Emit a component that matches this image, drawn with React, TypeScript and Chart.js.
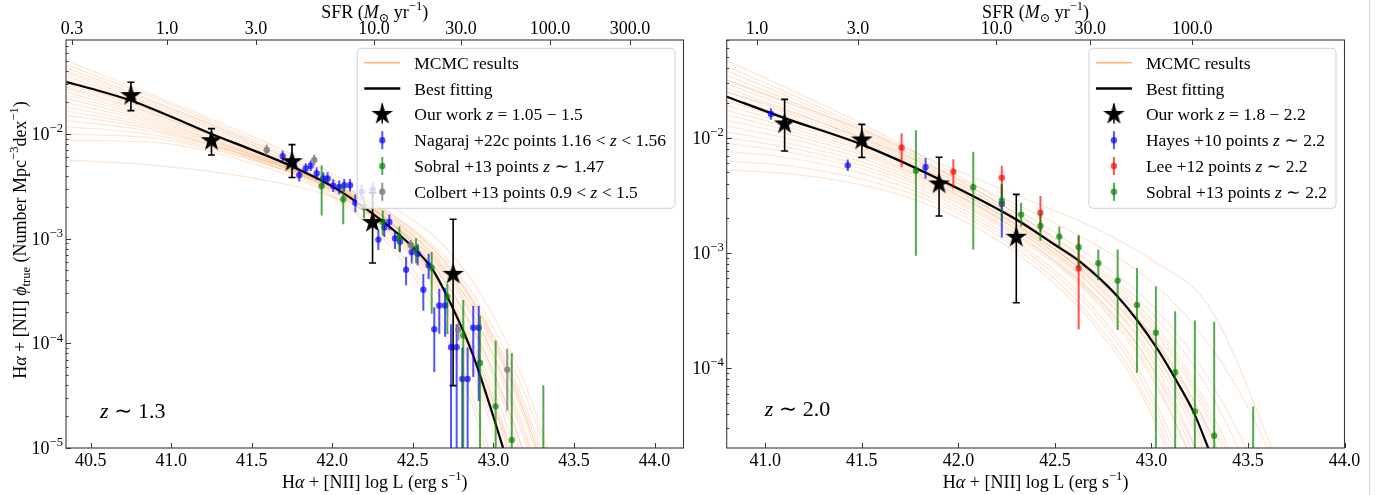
import React, { useEffect, useRef } from 'react';
import { Chart, registerables } from 'chart.js';
Chart.register(...registerables);

const SERIF = '"Liberation Serif", "DejaVu Serif", serif';

// ================= LEFT PANEL (z ~ 1.3) =================
const leftXTicks = [40.5, 41.0, 41.5, 42.0, 42.5, 43.0, 43.5, 44.0];
const leftSfrTickL = [40.384, 40.974, 41.527, 42.259, 42.799, 43.351, 43.848];
const leftSfrLabels = ['0.3', '1.0', '3.0', '10.0', '30.0', '100.0', '300.0'];
const leftYDecades = [-2, -3, -4, -5];

const leftBestL = [40.35, 40.5, 40.75, 41.0, 41.25, 41.5, 41.75, 42.0, 42.25, 42.5, 42.625, 42.75, 42.875, 43.0, 43.07];
const leftBestLogPhi = [-1.505, -1.565, -1.68, -1.835, -2.0, -2.15, -2.31, -2.5, -2.76, -3.08, -3.3, -3.67, -4.12, -4.7, -5.05];

const leftMcmcL = [40.35, 40.9, 41.5, 42.0, 42.4, 42.7, 42.95, 43.2, 43.5];
const leftMcmcLogPhi = [
  [-1.30, -1.64, -2.02, -2.38, -2.72, -3.08, -3.60, -4.40, -5.8],
  [-1.34, -1.66, -2.05, -2.43, -2.84, -3.30, -3.95, -4.90, -6.4],
  [-1.37, -1.69, -2.07, -2.46, -2.90, -3.42, -4.15, -5.2, -7.0],
  [-1.40, -1.70, -2.08, -2.44, -2.80, -3.22, -3.82, -4.70, -6.2],
  [-1.42, -1.72, -2.10, -2.50, -2.95, -3.52, -4.35, -5.5, -7.3],
  [-1.45, -1.74, -2.11, -2.48, -2.90, -3.40, -4.10, -5.1, -6.8],
  [-1.48, -1.76, -2.13, -2.50, -2.93, -3.47, -4.25, -5.3, -7.0],
  [-1.50, -1.78, -2.15, -2.52, -2.98, -3.58, -4.50, -5.8, -7.8],
  [-1.52, -1.79, -2.15, -2.49, -2.88, -3.35, -4.00, -4.95, -6.5],
  [-1.55, -1.81, -2.17, -2.53, -2.98, -3.55, -4.40, -5.6, -7.5],
  [-1.57, -1.82, -2.16, -2.47, -2.82, -3.22, -3.78, -4.60, -6.0],
  [-1.60, -1.84, -2.18, -2.52, -2.95, -3.50, -4.30, -5.5, -7.3],
  [-1.63, -1.86, -2.19, -2.50, -2.88, -3.33, -3.95, -4.85, -6.4],
  [-1.66, -1.88, -2.20, -2.55, -3.02, -3.66, -4.62, -6.0, -8.0],
  [-1.70, -1.90, -2.20, -2.49, -2.84, -3.25, -3.80, -4.65, -6.1],
  [-1.74, -1.92, -2.21, -2.53, -2.96, -3.52, -4.35, -5.6, -7.5],
  [-1.78, -1.94, -2.22, -2.50, -2.86, -3.28, -3.88, -4.75, -6.3],
  [-1.82, -1.96, -2.23, -2.58, -3.10, -3.82, -4.90, -6.4, -8.5],
  [-1.87, -1.98, -2.22, -2.48, -2.80, -3.18, -3.72, -4.50, -5.8],
  [-1.93, -2.01, -2.24, -2.55, -3.00, -3.62, -4.55, -5.9, -8.0],
  [-2.00, -2.04, -2.25, -2.52, -2.90, -3.40, -4.10, -5.1, -6.7],
  [-2.06, -2.08, -2.28, -2.60, -3.15, -3.90, -5.00, -6.5, -8.5],
  [-2.25, -2.30, -2.42, -2.60, -2.90, -3.30, -3.85, -4.7, -6.2],
];

const leftStarL = [40.75, 41.25, 41.75, 42.25, 42.75];
const leftStarLogPhi = [-1.633, -2.064, -2.265, -2.846, -3.341];
const leftStarUp = [0.128, 0.115, 0.163, 0.284, 0.527];
const leftStarDn = [0.144, 0.137, 0.150, 0.387, 1.063];

const leftNagL = [41.692, 41.758, 41.795, 41.835, 41.866, 41.903, 41.944, 41.971, 42.006, 42.043, 42.074, 42.11, 42.143, 42.182, 42.251, 42.286, 42.323, 42.354, 42.389, 42.42, 42.458, 42.493, 42.53, 42.565, 42.598, 42.633, 42.664, 42.7, 42.737, 42.772, 42.807, 42.84, 42.875, 42.909];
const leftNagLogPhi = [-2.211, -2.281, -2.393, -2.329, -2.303, -2.377, -2.425, -2.425, -2.495, -2.505, -2.489, -2.489, -2.658, -2.553, -2.53, -3.009, -2.894, -2.84, -2.999, -3.03, -3.296, -3.127, -3.143, -3.488, -3.255, -3.865, -3.638, -3.638, -4.037, -4.037, -4.34, -4.34, -3.851, -3.851];
const leftNagUp = [0.05, 0.05, 0.06, 0.05, 0.05, 0.06, 0.06, 0.06, 0.06, 0.06, 0.06, 0.06, 0.08, 0.07, 0.07, 0.08, 0.08, 0.07, 0.08, 0.08, 0.12, 0.09, 0.09, 0.15, 0.11, 0.21, 0.16, 0.17, 0.22, 0.22, 0.3, 0.3, 0.21, 0.21];
const leftNagDn = [0.05, 0.06, 0.06, 0.05, 0.05, 0.06, 0.06, 0.06, 0.06, 0.07, 0.06, 0.06, 0.09, 0.08, 0.08, 0.1, 0.09, 0.08, 0.1, 0.1, 0.15, 0.11, 0.11, 0.2, 0.13, 0.41, 0.27, 0.3, 1.5, 1.5, 1.5, 1.5, 0.47, 0.7];

const leftSobL = [41.934, 42.068, 42.197, 42.313, 42.416, 42.52, 42.617, 42.714, 42.813, 42.917, 43.014, 43.114, 43.31];
const leftSobLogPhi = [-2.498, -2.623, -2.696, -2.84, -2.983, -3.095, -3.277, -3.552, -3.925, -4.187, -4.602, -4.924, -5.4];
const leftSobUp = [0.2, 0.14, 0.1, 0.11, 0.1, 0.1, 0.15, 0.12, 0.34, 0.45, 0.63, 0.83, 1.0];
const leftSobDn = [0.28, 0.24, 0.11, 0.13, 0.14, 0.14, 0.44, 0.36, 1.5, 1.5, 1.5, 1.5, 1.5];

const leftColL = [41.593, 41.888, 42.487, 42.782, 43.086];
const leftColLogPhi = [-2.153, -2.249, -3.063, -3.871, -4.251];
const leftColUp = [0.05, 0.05, 0.05, 0.07, 0.2];
const leftColDn = [0.05, 0.05, 0.05, 0.1, 0.39];

// ================= RIGHT PANEL (z ~ 2.0) =================
const rightXTicks = [41.0, 41.5, 42.0, 42.5, 43.0, 43.5, 44.0];
const rightSfrTickL = [40.957, 41.48, 42.197, 42.683, 43.211];
const rightSfrLabels = ['1.0', '3.0', '10.0', '30.0', '100.0'];
const rightYDecades = [-2, -3, -4];

const rightBestL = [40.8, 41.1, 41.5, 41.9, 42.3, 42.5, 42.63, 42.825, 43.023, 43.127, 43.221, 43.3];
const rightBestLogPhi = [-1.644, -1.83, -2.06, -2.36, -2.71, -2.93, -3.076, -3.38, -3.814, -4.103, -4.392, -4.72];

const rightMcmcL = [40.8, 41.1, 41.5, 41.9, 42.3, 42.7, 43.0, 43.3, 43.6, 43.9];
const rightMcmcLogPhi = [
  [-1.33, -1.56, -1.88, -2.24, -2.62, -3.05, -3.45, -4.10, -5.1, -6.5],
  [-1.38, -1.60, -1.91, -2.27, -2.66, -3.12, -3.58, -4.35, -5.5, -7.0],
  [-1.42, -1.63, -1.93, -2.28, -2.66, -3.10, -3.52, -4.20, -5.3, -6.8],
  [-1.46, -1.66, -1.95, -2.30, -2.70, -3.20, -3.72, -4.60, -6.0, -8.0],
  [-1.50, -1.69, -1.97, -2.31, -2.69, -3.15, -3.62, -4.40, -5.6, -7.3],
  [-1.53, -1.72, -1.99, -2.33, -2.73, -3.25, -3.82, -4.80, -6.3, -8.5],
  [-1.57, -1.75, -2.01, -2.34, -2.72, -3.20, -3.70, -4.55, -5.9, -7.8],
  [-1.60, -1.78, -2.03, -2.35, -2.72, -3.18, -3.65, -4.45, -5.7, -7.5],
  [-1.64, -1.81, -2.05, -2.37, -2.76, -3.30, -3.92, -5.00, -6.7, -9.0],
  [-1.68, -1.84, -2.07, -2.38, -2.75, -3.24, -3.78, -4.70, -6.1, -8.1],
  [-1.72, -1.87, -2.09, -2.39, -2.76, -3.22, -3.72, -4.55, -5.9, -7.8],
  [-1.76, -1.90, -2.11, -2.41, -2.80, -3.35, -4.00, -5.10, -6.8, -9.0],
  [-1.80, -1.93, -2.13, -2.42, -2.78, -3.27, -3.82, -4.75, -6.2, -8.2],
  [-1.85, -1.96, -2.15, -2.43, -2.80, -3.30, -3.88, -4.85, -6.4, -8.5],
  [-1.90, -2.00, -2.18, -2.45, -2.83, -3.38, -4.05, -5.20, -6.9, -9.0],
  [-1.95, -2.04, -2.21, -2.47, -2.84, -3.36, -3.98, -5.00, -6.6, -8.8],
  [-2.00, -2.08, -2.24, -2.49, -2.86, -3.40, -4.08, -5.20, -6.9, -9.2],
  [-2.05, -2.12, -2.27, -2.52, -2.90, -3.48, -4.22, -5.50, -7.3, -9.6],
  [-2.12, -2.17, -2.31, -2.55, -2.93, -3.52, -4.28, -5.60, -7.4, -9.8],
  [-2.20, -2.24, -2.36, -2.58, -2.96, -3.58, -4.35, -5.70, -7.6, -10.0],
  [-2.28, -2.31, -2.41, -2.62, -3.00, -3.62, -4.40, -5.80, -7.7, -10.0],
  [-1.50, -1.68, -1.93, -2.22, -2.50, -2.78, -3.06, -3.47, -4.6, -6.0],
  [-1.60, -1.76, -2.00, -2.28, -2.58, -2.92, -3.25, -3.80, -4.7, -6.2],
];

const rightStarL = [41.1, 41.5, 41.9, 42.3];
const rightStarLogPhi = [-1.881, -2.02, -2.402, -2.865];
const rightStarUp = [0.214, 0.136, 0.232, 0.373];
const rightStarDn = [0.234, 0.151, 0.278, 0.568];

const rightHayL = [41.029, 41.427, 41.83, 42.225];
const rightHayLogPhi = [-1.794, -2.24, -2.257, -2.576];
const rightHayUp = [0.05, 0.05, 0.08, 0.17];
const rightHayDn = [0.05, 0.05, 0.1, 0.29];

const rightLeeL = [41.706, 41.974, 42.225, 42.425, 42.623];
const rightLeeLogPhi = [-2.087, -2.295, -2.347, -2.651, -3.134];
const rightLeeUp = [0.125, 0.108, 0.104, 0.145, 0.28];
const rightLeeDn = [0.17, 0.144, 0.27, 0.165, 0.53];

const rightSobL = [41.78, 42.077, 42.225, 42.325, 42.425, 42.523, 42.623, 42.725, 42.825, 42.925, 43.023, 43.123, 43.225, 43.325, 43.527];
const rightSobLogPhi = [-2.286, -2.431, -2.547, -2.668, -2.766, -2.859, -2.951, -3.09, -3.241, -3.452, -3.693, -4.037, -4.378, -4.589, -5.3];
const rightSobUp = [0.35, 0.31, 0.145, 0.104, 0.11, 0.087, 0.107, 0.12, 0.27, 0.32, 0.4, 0.53, 0.79, 0.99, 0.965];
const rightSobDn = [0.74, 0.54, 0.18, 0.104, 0.13, 0.087, 0.18, 0.145, 0.43, 0.59, 1.5, 1.5, 1.5, 1.5, 1.5];

// ================= helpers =================
type Seg = { t: string; it?: boolean; sup?: boolean; sub?: boolean };

const BLUE = 'rgba(0,0,255,0.68)';
const GREEN = 'rgba(0,128,0,0.68)';
const RED = 'rgba(255,0,0,0.68)';
const GRAY = 'rgba(128,128,128,0.85)';
const MCMC_LINE = 'rgba(245,130,40,0.2)';
const MCMC_LEGEND = 'rgba(255,127,14,0.6)';

function segFont(s: Seg, size: number) {
  const sz = s.sup || s.sub ? size * 0.7 : size;
  return `${s.it ? 'italic ' : ''}${sz}px ${SERIF}`;
}
function richWidth(ctx: CanvasRenderingContext2D, segs: Seg[], size: number) {
  let w = 0;
  for (const s of segs) {
    ctx.font = segFont(s, size);
    w += ctx.measureText(s.t).width;
  }
  return w;
}
function drawRich(ctx: CanvasRenderingContext2D, segs: Seg[], x: number, y: number, size: number, align: string) {
  const w = richWidth(ctx, segs, size);
  let cx = align === 'left' ? x : align === 'center' ? x - w / 2 : x - w;
  ctx.textBaseline = 'alphabetic';
  ctx.textAlign = 'left';
  for (const s of segs) {
    ctx.font = segFont(s, size);
    const dy = s.sup ? -size * 0.42 : s.sub ? size * 0.22 : 0;
    ctx.fillText(s.t, cx, y + dy);
    cx += ctx.measureText(s.t).width;
  }
}

function makeStar(R: number) {
  const size = Math.ceil(2 * R + 2);
  const c = document.createElement('canvas');
  c.width = size;
  c.height = size;
  const g = c.getContext('2d')!;
  const cx = size / 2, cy = size / 2, r = R * 0.382;
  g.beginPath();
  for (let i = 0; i < 10; i++) {
    const rad = i % 2 === 0 ? R : r;
    const a = -Math.PI / 2 + (i * Math.PI) / 5;
    const px = cx + rad * Math.cos(a), py = cy + rad * Math.sin(a);
    if (i === 0) g.moveTo(px, py); else g.lineTo(px, py);
  }
  g.closePath();
  g.fillStyle = '#000';
  g.fill();
  return c;
}

function pointSet(label: string, L: number[], lg: number[], up: number[], dn: number[], color: string, order: number) {
  return {
    label,
    showLine: false,
    order,
    data: L.map((x, i) => ({ x, y: Math.pow(10, lg[i]) })),
    pointRadius: 3.2,
    pointHoverRadius: 3.2,
    pointBackgroundColor: color,
    pointBorderColor: color,
    pointBorderWidth: 0,
    errLo: L.map((_, i) => Math.pow(10, lg[i] - dn[i])),
    errHi: L.map((_, i) => Math.pow(10, lg[i] + up[i])),
    errColor: color,
    errWidth: 2,
    errCap: 0,
  };
}

function starSet(L: number[], lg: number[], up: number[], dn: number[], star: HTMLCanvasElement) {
  return {
    label: 'Our work',
    showLine: false,
    order: 0,
    data: L.map((x, i) => ({ x, y: Math.pow(10, lg[i]) })),
    pointStyle: star,
    pointRadius: 11,
    pointHoverRadius: 11,
    errLo: L.map((_, i) => Math.pow(10, lg[i] - dn[i])),
    errHi: L.map((_, i) => Math.pow(10, lg[i] + up[i])),
    errColor: '#000',
    errWidth: 1.6,
    errCap: 3.5,
  };
}

function curveSet(L: number[], lg: number[], color: string, width: number, order: number) {
  return {
    label: '',
    order,
    data: L.map((x, i) => ({ x, y: Math.pow(10, lg[i]) })),
    borderColor: color,
    borderWidth: width,
    pointRadius: 0,
    pointHoverRadius: 0,
    fill: false,
    cubicInterpolationMode: 'monotone',
  };
}

const errorBarPlugin = {
  id: 'errbars',
  beforeDatasetDraw(chart: any, args: any) {
    const ds = chart.data.datasets[args.index];
    if (!ds.errLo) return;
    const ctx = chart.ctx;
    const a = chart.chartArea;
    const ys = chart.scales.y;
    ctx.save();
    ctx.beginPath();
    ctx.rect(a.left, a.top, a.right - a.left, a.bottom - a.top);
    ctx.clip();
    ctx.strokeStyle = ds.errColor;
    ctx.lineWidth = ds.errWidth;
    args.meta.data.forEach((pt: any, i: number) => {
      const x = pt.x;
      const y1 = ys.getPixelForValue(ds.errLo[i]);
      const y2 = ys.getPixelForValue(ds.errHi[i]);
      ctx.beginPath();
      ctx.moveTo(x, y1);
      ctx.lineTo(x, y2);
      if (ds.errCap) {
        ctx.moveTo(x - ds.errCap, y1);
        ctx.lineTo(x + ds.errCap, y1);
        ctx.moveTo(x - ds.errCap, y2);
        ctx.lineTo(x + ds.errCap, y2);
      }
      ctx.stroke();
    });
    ctx.restore();
  },
};

type LegendEntry = { kind: string; color: string; label: Seg[] };

type Panel = {
  id: string;
  xMin: number; xMax: number; yMin: number; yMax: number;
  yAxisWidth: number; padRight: number;
  xTicks: number[]; sfrTickL: number[]; sfrLabels: string[]; yDecades: number[];
  datasets: any[];
  legend: LegendEntry[];
  ann: Seg[]; annX: number; annY: number;
  yTitle: boolean;
};

const titleTop: Seg[] = [{ t: 'SFR (' }, { t: 'M', it: true }, { t: '⊙', sub: true }, { t: ' yr' }, { t: '−1', sup: true }, { t: ')' }];
const titleBottom: Seg[] = [{ t: 'H' }, { t: 'α', it: true }, { t: ' + [NII] log L (erg s' }, { t: '−1', sup: true }, { t: ')' }];
const titleY: Seg[] = [
  { t: 'H' }, { t: 'α', it: true }, { t: ' + [NII] ' }, { t: 'ϕ', it: true }, { t: 'true', sub: true },
  { t: ' (Number Mpc' }, { t: '−3', sup: true }, { t: 'dex' }, { t: '−1', sup: true }, { t: ')' },
];

function makeDecor(p: Panel, star: HTMLCanvasElement) {
  return {
    id: 'decor_' + p.id,
    afterDraw(chart: any) {
      const ctx: CanvasRenderingContext2D = chart.ctx;
      const a = chart.chartArea;
      const xs = chart.scales.x;
      const ys = chart.scales.y;
      ctx.save();
      // ticks (inward)
      ctx.strokeStyle = '#333';
      ctx.lineWidth = 1;
      ctx.beginPath();
      for (const v of p.xTicks) {
        const x = Math.round(xs.getPixelForValue(v)) + 0.5;
        ctx.moveTo(x, a.bottom);
        ctx.lineTo(x, a.bottom - 5);
      }
      for (const v of p.sfrTickL) {
        const x = Math.round(xs.getPixelForValue(v)) + 0.5;
        ctx.moveTo(x, a.top);
        ctx.lineTo(x, a.top + 5);
      }
      const lo = Math.floor(Math.log10(ys.min));
      const hi = Math.ceil(Math.log10(ys.max));
      for (let d = lo; d <= hi; d++) {
        for (let m = 1; m <= 9; m++) {
          const v = m * Math.pow(10, d);
          if (v < ys.min * 0.999 || v > ys.max) continue;
          const y = Math.round(ys.getPixelForValue(v)) + 0.5;
          const len = m === 1 ? 5 : 2.5;
          ctx.moveTo(a.left, y);
          ctx.lineTo(a.left + len, y);
        }
      }
      ctx.stroke();
      // frame
      ctx.strokeStyle = '#3a3a3a';
      ctx.lineWidth = 1.1;
      ctx.strokeRect(a.left, a.top, a.right - a.left, a.bottom - a.top);

      // y tick labels
      ctx.fillStyle = '#000';
      for (const d of p.yDecades) {
        const y = ys.getPixelForValue(Math.pow(10, d));
        drawRich(ctx, [{ t: '10' }, { t: '−' + String(-d), sup: true }], a.left - 3, y + 6, 18, 'right');
      }
      const cx = (a.left + a.right) / 2;
      drawRich(ctx, titleTop, cx, 18, 18, 'center');
      drawRich(ctx, titleBottom, cx, 488, 18, 'center');
      if (p.yTitle) {
        ctx.save();
        ctx.translate(20, 240);
        ctx.rotate(-Math.PI / 2);
        drawRich(ctx, titleY, 0, 6, 18, 'center');
        ctx.restore();
      }
      // annotation
      drawRich(ctx, p.ann, a.left + p.annX, a.bottom - p.annY, 22, 'left');

      // legend
      const fs = 17.5;
      let tw = 0;
      for (const e of p.legend) tw = Math.max(tw, richWidth(ctx, e.label, fs));
      const w = 57 + tw + 9;
      const h = 160;
      const lx = a.right - 8.5 - w;
      const ly = a.top + 8.3;
      ctx.beginPath();
      const r = 4;
      ctx.moveTo(lx + r, ly);
      ctx.lineTo(lx + w - r, ly);
      ctx.arcTo(lx + w, ly, lx + w, ly + r, r);
      ctx.lineTo(lx + w, ly + h - r);
      ctx.arcTo(lx + w, ly + h, lx + w - r, ly + h, r);
      ctx.lineTo(lx + r, ly + h);
      ctx.arcTo(lx, ly + h, lx, ly + h - r, r);
      ctx.lineTo(lx, ly + r);
      ctx.arcTo(lx, ly, lx + r, ly, r);
      ctx.closePath();
      ctx.fillStyle = 'rgba(255,255,255,0.8)';
      ctx.fill();
      ctx.strokeStyle = '#d0d0d0';
      ctx.lineWidth = 1;
      ctx.stroke();
      p.legend.forEach((e, i) => {
        const cy = ly + 14.5 + i * 25.8;
        const hx = lx + 25;
        if (e.kind === 'line' || e.kind === 'bold') {
          ctx.strokeStyle = e.color;
          ctx.lineWidth = e.kind === 'bold' ? 2.5 : 1.5;
          ctx.beginPath();
          ctx.moveTo(lx + 7, cy);
          ctx.lineTo(lx + 43, cy);
          ctx.stroke();
        } else if (e.kind === 'star') {
          ctx.strokeStyle = '#000';
          ctx.lineWidth = 1.5;
          ctx.beginPath();
          ctx.moveTo(hx, cy - 11);
          ctx.lineTo(hx, cy + 9);
          ctx.stroke();
          ctx.drawImage(star, hx - star.width / 2, cy - star.height / 2);
        } else {
          ctx.strokeStyle = e.color;
          ctx.lineWidth = 2;
          ctx.beginPath();
          ctx.moveTo(hx, cy - 9);
          ctx.lineTo(hx, cy + 9);
          ctx.stroke();
          ctx.fillStyle = e.color;
          ctx.beginPath();
          ctx.arc(hx, cy, 3.2, 0, Math.PI * 2);
          ctx.fill();
        }
        ctx.fillStyle = '#000';
        drawRich(ctx, e.label, lx + 57, cy + 6, fs, 'left');
      });
      ctx.restore();
    },
  };
}

function buildChart(canvas: HTMLCanvasElement, p: Panel, star: HTMLCanvasElement) {
  const tickFont = { family: SERIF, size: 18 };
  return new Chart(canvas, {
    type: 'line',
    data: { datasets: p.datasets },
    options: {
      animation: false,
      responsive: false,
      maintainAspectRatio: false,
      events: [],
      layout: { padding: { left: 0, right: p.padRight, top: 0, bottom: 0 } },
      plugins: { legend: { display: false }, tooltip: { enabled: false }, title: { display: false } },
      scales: {
        x: {
          type: 'linear',
          position: 'bottom',
          min: p.xMin,
          max: p.xMax,
          grid: { display: false, drawTicks: false, tickLength: 0 },
          border: { display: false },
          afterBuildTicks: (s: any) => { s.ticks = p.xTicks.map((v) => ({ value: v })); },
          afterFit: (s: any) => { s.height = 47; },
          ticks: {
            autoSkip: false, maxRotation: 0, minRotation: 0, padding: 2, color: '#000', font: tickFont,
            callback: (v: any) => Number(v).toFixed(1),
          },
        },
        xTop: {
          type: 'linear',
          position: 'top',
          min: p.xMin,
          max: p.xMax,
          grid: { display: false, drawTicks: false, tickLength: 0 },
          border: { display: false },
          afterBuildTicks: (s: any) => { s.ticks = p.sfrTickL.map((v) => ({ value: v })); },
          afterFit: (s: any) => { s.height = 40; },
          ticks: {
            autoSkip: false, maxRotation: 0, minRotation: 0, padding: 0, color: '#000', font: tickFont,
            callback: (_v: any, i: number) => p.sfrLabels[i],
          },
        },
        y: {
          type: 'logarithmic',
          position: 'left',
          min: p.yMin,
          max: p.yMax,
          grid: { display: false, drawTicks: false },
          border: { display: false },
          ticks: { display: false },
          afterFit: (s: any) => { s.width = p.yAxisWidth; },
        },
      },
    } as any,
    plugins: [errorBarPlugin, makeDecor(p, star)],
  } as any);
}

export default function App() {
  const leftRef = useRef<HTMLCanvasElement>(null);
  const rightRef = useRef<HTMLCanvasElement>(null);

  useEffect(() => {
    const star = makeStar(11.4);
    const leftDatasets = [
      ...leftMcmcLogPhi.map((row) => curveSet(leftMcmcL, row, MCMC_LINE, 1.2, 10)),
      curveSet(leftBestL, leftBestLogPhi, '#000', 2.2, 5),
      pointSet('Colbert', leftColL, leftColLogPhi, leftColUp, leftColDn, GRAY, 1),
      pointSet('Sobral', leftSobL, leftSobLogPhi, leftSobUp, leftSobDn, GREEN, 2),
      pointSet('Nagaraj', leftNagL, leftNagLogPhi, leftNagUp, leftNagDn, BLUE, 3),
      starSet(leftStarL, leftStarLogPhi, leftStarUp, leftStarDn, star),
    ];
    const rightDatasets = [
      ...rightMcmcLogPhi.map((row) => curveSet(rightMcmcL, row, MCMC_LINE, 1.2, 10)),
      curveSet(rightBestL, rightBestLogPhi, '#000', 2.2, 5),
      pointSet('Sobral', rightSobL, rightSobLogPhi, rightSobUp, rightSobDn, GREEN, 1),
      pointSet('Lee', rightLeeL, rightLeeLogPhi, rightLeeUp, rightLeeDn, RED, 2),
      pointSet('Hayes', rightHayL, rightHayLogPhi, rightHayUp, rightHayDn, BLUE, 3),
      starSet(rightStarL, rightStarLogPhi, rightStarUp, rightStarDn, star),
    ];
    const leftPanel: Panel = {
      id: 'left',
      xMin: 40.347, xMax: 44.18, yMin: 1e-5, yMax: Math.pow(10, -1.102),
      yAxisWidth: 66, padRight: 22.5,
      xTicks: leftXTicks, sfrTickL: leftSfrTickL, sfrLabels: leftSfrLabels, yDecades: leftYDecades,
      datasets: leftDatasets,
      legend: [
        { kind: 'line', color: MCMC_LEGEND, label: [{ t: 'MCMC results' }] },
        { kind: 'bold', color: '#000', label: [{ t: 'Best fitting' }] },
        { kind: 'star', color: '#000', label: [{ t: 'Our work ' }, { t: 'z', it: true }, { t: ' = 1.05 − 1.5' }] },
        { kind: 'pt', color: BLUE, label: [{ t: 'Nagaraj +22c points 1.16 < ' }, { t: 'z', it: true }, { t: ' < 1.56' }] },
        { kind: 'pt', color: GREEN, label: [{ t: 'Sobral +13 points ' }, { t: 'z', it: true }, { t: ' ∼ 1.47' }] },
        { kind: 'pt', color: GRAY, label: [{ t: 'Colbert +13 points 0.9 < ' }, { t: 'z', it: true }, { t: ' < 1.5' }] },
      ],
      ann: [{ t: 'z', it: true }, { t: ' ∼ 1.3' }], annX: 34, annY: 30,
      yTitle: true,
    };
    const rightPanel: Panel = {
      id: 'right',
      xMin: 40.8, xMax: 44.0, yMin: Math.pow(10, -4.695), yMax: Math.pow(10, -1.1515),
      yAxisWidth: 46.7, padRight: 43.5,
      xTicks: rightXTicks, sfrTickL: rightSfrTickL, sfrLabels: rightSfrLabels, yDecades: rightYDecades,
      datasets: rightDatasets,
      legend: [
        { kind: 'line', color: MCMC_LEGEND, label: [{ t: 'MCMC results' }] },
        { kind: 'bold', color: '#000', label: [{ t: 'Best fitting' }] },
        { kind: 'star', color: '#000', label: [{ t: 'Our work ' }, { t: 'z', it: true }, { t: ' = 1.8 − 2.2' }] },
        { kind: 'pt', color: BLUE, label: [{ t: 'Hayes +10 points ' }, { t: 'z', it: true }, { t: ' ∼ 2.2' }] },
        { kind: 'pt', color: RED, label: [{ t: 'Lee +12 points ' }, { t: 'z', it: true }, { t: ' ∼ 2.2' }] },
        { kind: 'pt', color: GREEN, label: [{ t: 'Sobral +13 points ' }, { t: 'z', it: true }, { t: ' ∼ 2.2' }] },
      ],
      ann: [{ t: 'z', it: true }, { t: ' ∼ 2.0' }], annX: 38, annY: 32,
      yTitle: false,
    };
    const c1 = buildChart(leftRef.current!, leftPanel, star);
    const c2 = buildChart(rightRef.current!, rightPanel, star);
    return () => {
      c1.destroy();
      c2.destroy();
    };
  }, []);

  return (
    <div style={{ position: 'absolute', left: 0, top: 0, width: 1388, height: 495, background: '#fff', overflow: 'hidden' }}>
      <canvas ref={leftRef} width={706} height={495} style={{ position: 'absolute', left: 0, top: 0, width: 706, height: 495 }} />
      <canvas ref={rightRef} width={708} height={495} style={{ position: 'absolute', left: 680, top: 0, width: 708, height: 495 }} />
      <div style={{ position: 'absolute', left: 1369, top: 0, width: 1, height: 495, background: '#d6d6d6' }} />
    </div>
  );
}
